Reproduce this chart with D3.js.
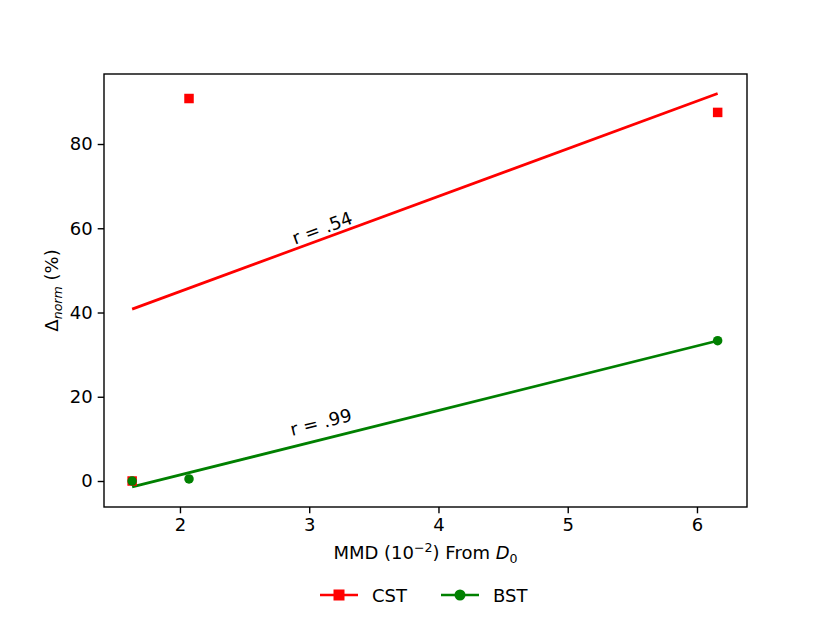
<!DOCTYPE html>
<html><head><meta charset="utf-8">
<script src="https://cdn.jsdelivr.net/npm/d3@7"></script>
<style>body{margin:0;background:#fff}text{font-family:"DejaVu Sans",sans-serif;fill:#000}</style>
</head><body>
<svg id="chart" width="830" height="623"></svg>
<script>
const xTicks = [2, 3, 4, 5, 6];
const yTicks = [0, 20, 40, 60, 80];
const mmd = [1.63, 2.07, 6.16];
const cstValues = [0, 90.8, 87.5];
const bstValues = [0, 0.5, 33.3];
const fitX = [1.63, 6.16];
const cstFit = [40.8, 92.0];
const bstFit = [-1.4, 33.3];
const labels = [
  {text: "r = .54", x: 3.1, y: 60.1, angle: -20.3},
  {text: "r = .99", x: 3.09, y: 14.0, angle: -14.0}
];

const svg = d3.select("#chart");
const L = 104, R = 747, T = 74, B = 507;
const x = d3.scaleLinear().domain([1.4123, 6.387]).range([L, R]);
const y = d3.scaleLinear().domain([-6.17, 96.62]).range([B, T]);

const line = d3.line().x(d => x(d[0])).y(d => y(d[1]));
svg.append("path").attr("d", line(d3.zip(fitX, cstFit))).attr("fill","none").attr("stroke","#ff0000").attr("stroke-width",2.7);
svg.append("path").attr("d", line(d3.zip(fitX, bstFit))).attr("fill","none").attr("stroke","#008000").attr("stroke-width",2.7);

const ms = 9.5;
svg.selectAll("rect.cst").data(d3.zip(mmd, cstValues)).join("rect")
  .attr("x", d => x(d[0]) - ms/2).attr("y", d => y(d[1]) - ms/2)
  .attr("width", ms).attr("height", ms).attr("fill", "#ff0000");
svg.selectAll("circle.bst").data(d3.zip(mmd, bstValues)).join("circle")
  .attr("cx", d => x(d[0])).attr("cy", d => y(d[1])).attr("r", ms/2).attr("fill", "#008000");

labels.forEach(l => {
  svg.append("text").attr("transform", `translate(${x(l.x)},${y(l.y)}) rotate(${l.angle})`)
    .attr("text-anchor","middle").attr("dominant-baseline","central").attr("font-size",18).text(l.text);
});

const xa = svg.append("g").attr("transform", `translate(0,${B})`)
  .call(d3.axisBottom(x).tickValues(xTicks).tickFormat(d3.format("d")).tickSizeOuter(0).tickSize(6.3).tickPadding(5));
const ya = svg.append("g").attr("transform", `translate(${L},0)`)
  .call(d3.axisLeft(y).tickValues(yTicks).tickFormat(d3.format("d")).tickSizeOuter(0).tickSize(6.3).tickPadding(5));
[xa, ya].forEach(a => {
  a.select(".domain").remove();
  a.selectAll("line").attr("stroke","#000").attr("stroke-width",1.4);
  a.selectAll("text").attr("font-size",18).attr("font-family","DejaVu Sans").attr("fill","#000");
});
svg.append("rect").attr("x",L).attr("y",T).attr("width",R-L).attr("height",B-T)
  .attr("fill","none").attr("stroke","#000").attr("stroke-width",1.4);

// x label
const xl = svg.append("text").attr("x",(L+R)/2).attr("y",559).attr("text-anchor","middle").attr("font-size",18);
xl.append("tspan").text("MMD (10");
xl.append("tspan").attr("font-size",12.6).attr("dy",-7).text("−2");
xl.append("tspan").attr("dy",7).text(") From ");
xl.append("tspan").attr("font-style","italic").text("D");
xl.append("tspan").attr("font-size",12.6).attr("dy",4).text("0");

// y label
const yl = svg.append("text").attr("transform",`translate(58,${(T+B)/2}) rotate(-90)`).attr("text-anchor","middle").attr("font-size",18);
yl.append("tspan").text("Δ");
yl.append("tspan").attr("font-size",12.6).attr("font-style","italic").attr("dy",4).text("norm");
yl.append("tspan").attr("dy",-4).text(" (%)");

// legend
const leg = [{name:"CST", color:"#ff0000", shape:"square", x0:320},{name:"BST", color:"#008000", shape:"circle", x0:441}];
const ly = 595, lms = 11;
leg.forEach(d => {
  const g = svg.append("g");
  g.append("line").attr("x1",d.x0).attr("x2",d.x0+38).attr("y1",ly).attr("y2",ly).attr("stroke",d.color).attr("stroke-width",2.7);
  if (d.shape==="square") g.append("rect").attr("x",d.x0+19-lms/2).attr("y",ly-lms/2).attr("width",lms).attr("height",lms).attr("fill",d.color);
  else g.append("circle").attr("cx",d.x0+19).attr("cy",ly).attr("r",lms/2).attr("fill",d.color);
  g.append("text").attr("x",d.x0+52).attr("y",ly).attr("dominant-baseline","central").attr("font-size",18).text(d.name);
});
</script>
</body></html>
